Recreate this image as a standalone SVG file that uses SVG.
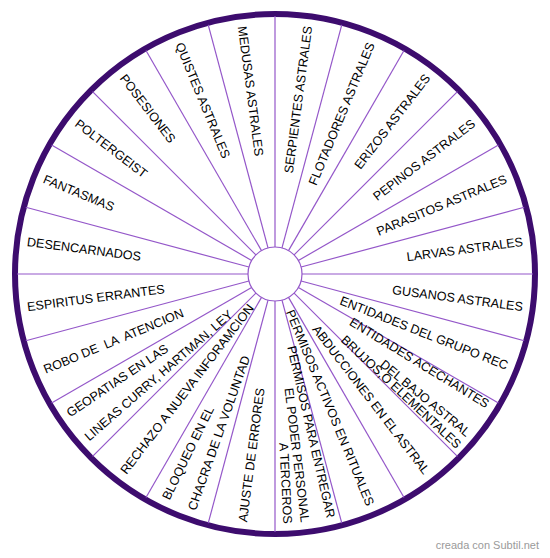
<svg xmlns="http://www.w3.org/2000/svg" width="550" height="558" viewBox="0 0 550 558">
<style>
.spoke{stroke:#9457c9;stroke-width:1.2;fill:none}
.lbl{font-family:"Liberation Sans",Arial,sans-serif;font-size:12.6px;fill:#000;white-space:pre}
.in{text-anchor:start}
.out{text-anchor:end}
.credit{font-family:"Liberation Sans",Arial,sans-serif;font-size:11px;fill:#9a9a9a;text-anchor:end}
</style>
<rect width="550" height="558" fill="#ffffff"/>
<g id="wheel">
<circle cx="275" cy="274" r="260" fill="#ffffff" stroke="#3d0c6e" stroke-width="6"/>
</g>
<g id="connectors" transform="translate(275,274)">
<line class="spoke" x1="27" y1="0" x2="258" y2="0" transform="rotate(0)"/>
<line class="spoke" x1="27" y1="0" x2="258" y2="0" transform="rotate(15)"/>
<line class="spoke" x1="27" y1="0" x2="258" y2="0" transform="rotate(30)"/>
<line class="spoke" x1="27" y1="0" x2="258" y2="0" transform="rotate(45)"/>
<line class="spoke" x1="27" y1="0" x2="258" y2="0" transform="rotate(60)"/>
<line class="spoke" x1="27" y1="0" x2="258" y2="0" transform="rotate(75)"/>
<line class="spoke" x1="27" y1="0" x2="258" y2="0" transform="rotate(90)"/>
<line class="spoke" x1="27" y1="0" x2="258" y2="0" transform="rotate(105)"/>
<line class="spoke" x1="27" y1="0" x2="258" y2="0" transform="rotate(120)"/>
<line class="spoke" x1="27" y1="0" x2="258" y2="0" transform="rotate(135)"/>
<line class="spoke" x1="27" y1="0" x2="258" y2="0" transform="rotate(150)"/>
<line class="spoke" x1="27" y1="0" x2="258" y2="0" transform="rotate(165)"/>
<line class="spoke" x1="27" y1="0" x2="258" y2="0" transform="rotate(180)"/>
<line class="spoke" x1="27" y1="0" x2="258" y2="0" transform="rotate(195)"/>
<line class="spoke" x1="27" y1="0" x2="258" y2="0" transform="rotate(210)"/>
<line class="spoke" x1="27" y1="0" x2="258" y2="0" transform="rotate(225)"/>
<line class="spoke" x1="27" y1="0" x2="258" y2="0" transform="rotate(240)"/>
<line class="spoke" x1="27" y1="0" x2="258" y2="0" transform="rotate(255)"/>
<line class="spoke" x1="27" y1="0" x2="258" y2="0" transform="rotate(270)"/>
<line class="spoke" x1="27" y1="0" x2="258" y2="0" transform="rotate(285)"/>
<line class="spoke" x1="27" y1="0" x2="258" y2="0" transform="rotate(300)"/>
<line class="spoke" x1="27" y1="0" x2="258" y2="0" transform="rotate(315)"/>
<line class="spoke" x1="27" y1="0" x2="258" y2="0" transform="rotate(330)"/>
<line class="spoke" x1="27" y1="0" x2="258" y2="0" transform="rotate(345)"/>
<circle class="spoke" cx="0" cy="0" r="27" fill="#ffffff"/>
</g>
<g id="labels">
<g id="medusas"><text class="lbl in" transform="translate(275,274) rotate(82.5)" x="-250" dy="0.36em">MEDUSAS ASTRALES</text></g>
<g id="quistes"><text class="lbl in" transform="translate(275,274) rotate(67.5)" x="-250" dy="0.36em">QUISTES ASTRALES</text></g>
<g id="posesiones"><text class="lbl in" transform="translate(275,274) rotate(52.5)" x="-250" dy="0.36em">POSESIONES</text></g>
<g id="poltergeist"><text class="lbl in" transform="translate(275,274) rotate(37.5)" x="-250" dy="0.36em">POLTERGEIST</text></g>
<g id="fantasmas"><text class="lbl in" transform="translate(275,274) rotate(22.5)" x="-250" dy="0.36em">FANTASMAS</text></g>
<g id="desencarnados"><text class="lbl in" transform="translate(275,274) rotate(7.5)" x="-250" dy="0.36em">DESENCARNADOS</text></g>
<g id="espiritus"><text class="lbl in" transform="translate(275,274) rotate(-7.5)" x="-250" dy="0.36em">ESPIRITUS ERRANTES</text></g>
<g id="robo"><text class="lbl in" transform="translate(275,274) rotate(-22.5)" x="-250" dy="0.36em" xml:space="preserve">ROBO DE  LA  ATENCION</text></g>
<g id="geopatias">
<text class="lbl in" transform="translate(275,274) rotate(-34)" x="-250" dy="0.36em">GEOPATIAS EN LAS</text>
<text class="lbl in" transform="translate(275,274) rotate(-41)" x="-250" dy="0.36em">LINEAS CURRY, HARTMAN, LEY</text>
</g>
<g id="rechazo"><text class="lbl in" transform="translate(275,274) rotate(-52.5)" x="-250" dy="0.36em">RECHAZO A NUEVA INFORAMCION</text></g>
<g id="bloqueo">
<text class="lbl in" transform="translate(275,274) rotate(-64)" x="-250" dy="0.36em">BLOQUEO EN EL</text>
<text class="lbl in" transform="translate(275,274) rotate(-70.5)" x="-250" dy="0.36em">CHACRA DE LA VOLUNTAD</text>
</g>
<g id="ajuste"><text class="lbl in" transform="translate(275,274) rotate(-82.5)" x="-250" dy="0.36em">AJUSTE DE ERRORES</text></g>
<g id="serpientes"><text class="lbl out" transform="translate(275,274) rotate(-82.5)" x="250" dy="0.36em">SERPIENTES ASTRALES</text></g>
<g id="flotadores"><text class="lbl out" transform="translate(275,274) rotate(-67.5)" x="250" dy="0.36em">FLOTADORES ASTRALES</text></g>
<g id="erizos"><text class="lbl out" transform="translate(275,274) rotate(-52.5)" x="250" dy="0.36em">ERIZOS ASTRALES</text></g>
<g id="pepinos"><text class="lbl out" transform="translate(275,274) rotate(-37.5)" x="250" dy="0.36em">PEPINOS ASTRALES</text></g>
<g id="parasitos"><text class="lbl out" transform="translate(275,274) rotate(-22.5)" x="250" dy="0.36em">PARASITOS ASTRALES</text></g>
<g id="larvas"><text class="lbl out" transform="translate(275,274) rotate(-7.5)" x="250" dy="0.36em">LARVAS ASTRALES</text></g>
<g id="gusanos"><text class="lbl out" transform="translate(275,274) rotate(7.5)" x="250" dy="0.36em">GUSANOS ASTRALES</text></g>
<g id="entidades-rec"><text class="lbl out" transform="translate(275,274) rotate(21.5)" x="250" dy="0.36em">ENTIDADES DEL GRUPO REC</text></g>
<g id="entidades-acechantes"><text class="lbl out" transform="translate(275,274) rotate(31.5)" x="250" dy="0.36em">ENTIDADES ACECHANTES</text></g>
<g id="brujos">
<text class="lbl out" transform="translate(275,274) rotate(39.5)" x="251" dy="0.36em">DEL BAJO ASTRAL</text>
<text class="lbl out" transform="translate(275,274) rotate(43)" x="252" dy="0.36em">BRUJOS,O ELEMENTALES</text>
</g>
<g id="abducciones"><text class="lbl out" transform="translate(275,274) rotate(52.5)" x="250" dy="0.36em">ABDUCCIONES EN EL ASTRAL</text></g>
<g id="permisos-activos"><text class="lbl out" transform="translate(275,274) rotate(67.5)" x="250" dy="0.36em">PERMISOS ACTIVOS EN RITUALES</text></g>
<g id="permisos-entregar">
<text class="lbl out" transform="translate(275,274) rotate(77)" x="250" dy="0.36em">PERMISOS PARA ENTREGAR</text>
<text class="lbl out" transform="translate(275,274) rotate(83)" x="250" dy="0.36em">EL PODER PERSONAL</text>
<text class="lbl out" transform="translate(275,274) rotate(87)" x="250" dy="0.36em">A TERCEROS</text>
</g>
</g>
<text class="credit" x="539" y="549">creada con Subtil.net</text>
</svg>
